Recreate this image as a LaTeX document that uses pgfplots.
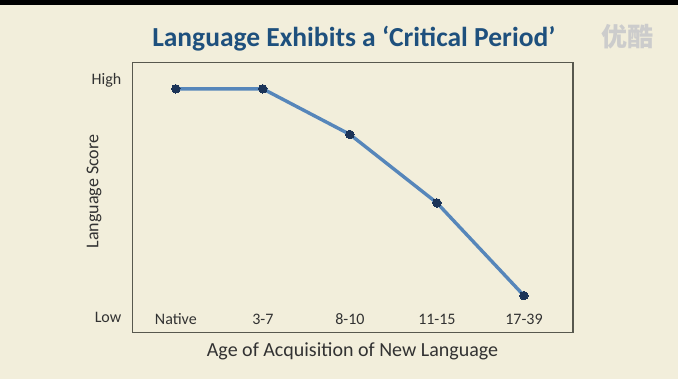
\documentclass[border=0pt]{standalone}
\usepackage{pgfplots}
\pgfplotsset{compat=1.18}
\usepackage{fontspec}
\setmainfont{Carlito}
\newfontfamily\cjk{Noto Sans CJK SC}
\definecolor{bgcream}{RGB}{242,238,219}
\definecolor{titleblue}{RGB}{30,80,125}
\definecolor{axisgray}{RGB}{88,88,78}
\definecolor{labelgray}{RGB}{50,50,50}
\definecolor{lineblue}{RGB}{86,134,186}
\definecolor{markblue}{RGB}{28,52,88}
\pgfplotstableread{
x y
0 90.3
1 90.3
2 73.4
3 48.0
4 13.6
}\scores
\begin{document}
\begin{tikzpicture}[x=1pt,y=1pt]
\useasboundingbox (0,0) rectangle (678,389);
\fill[bgcream] (0,0) rectangle (678,389);
\fill[white] (0,0) rectangle (678,10);
\fill[black] (0,384) rectangle (678,389);
\node[text=titleblue, font=\fontsize{27.5}{31}\selectfont\bfseries, anchor=base] at (353.8,342.3) {Language Exhibits a ‘Critical Period’};
\node[text=gray!40, font=\cjk\fontsize{26}{28}\selectfont\bfseries] at (627,352) {优酷};
\begin{axis}[
  at={(132.3pt,56.7pt)}, anchor=south west,
  scale only axis, width=440.4pt, height=269.6pt,
  xmin=-0.5, xmax=4.56, ymin=0, ymax=100,
  xtick={0,1,2,3,4}, xticklabels={Native,3-7,8-10,11-15,17-39},
  ytick={3.5,91.9}, yticklabels={Low,High},
  major tick length=0pt,
  axis line style={draw=axisgray, line width=1.6pt},
  xticklabel style={anchor=base, yshift=8.3pt, inner sep=0pt, font=\fontsize{16}{19}\selectfont, text=labelgray},
  yticklabel style={anchor=base east, xshift=-10.8pt, inner sep=0pt, font=\fontsize{16}{19}\selectfont, text=labelgray},
  xlabel={Age of Acquisition of New Language},
  xlabel style={at={(axis description cs:0.5,0)}, anchor=base, yshift=-24pt, inner sep=0pt, font=\fontsize{20}{24}\selectfont, text=labelgray},
  ylabel={Language Score},
  ylabel style={at={(axis description cs:-0.087,0.522)}, anchor=center, inner sep=0pt, font=\fontsize{18}{22}\selectfont, text=labelgray},
  clip=false,
]
\addplot[color=lineblue, line width=3.4pt, mark=*, mark size=4.2pt, mark options={fill=markblue, draw=markblue, line width=0pt}] table[x=x,y=y] {\scores};
\end{axis}
\end{tikzpicture}
\end{document}
